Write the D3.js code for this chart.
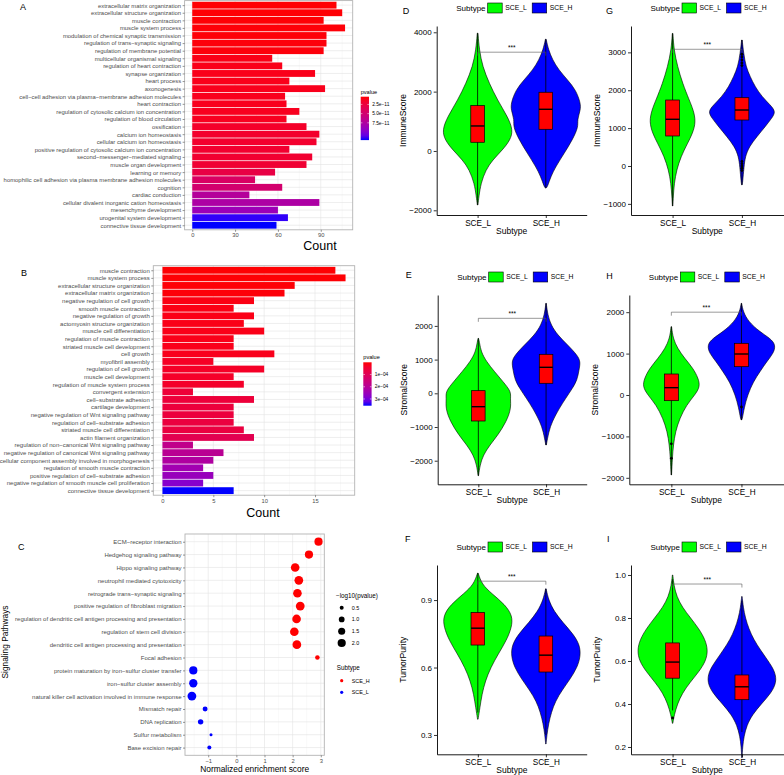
<!DOCTYPE html>
<html>
<head>
<meta charset="utf-8">
<script src="https://d3js.org/d3.v7.min.js"></script>
<style>
  body { margin: 0; background: #fff; }
  svg { font-family: "Liberation Sans", Arial, Helvetica, sans-serif; }
</style>
</head>
<body>
<div id="chart"></div>
<script>
// ---------- data: panel A (GO terms) ----------
var termsA = ["extracellular matrix organization", "extracellular structure organization", "muscle contraction",
  "muscle system process", "modulation of chemical synaptic transmission", "regulation of trans\u2212synaptic signaling",
  "regulation of membrane potential", "multicellular organismal signaling", "regulation of heart contraction",
  "synapse organization", "heart process", "axonogenesis",
  "cell\u2212cell adhesion via plasma\u2212membrane adhesion molecules", "heart contraction",
  "regulation of cytosolic calcium ion concentration", "regulation of blood circulation", "ossification",
  "calcium ion homeostasis", "cellular calcium ion homeostasis",
  "positive regulation of cytosolic calcium ion concentration", "second\u2212messenger\u2212mediated signaling",
  "muscle organ development", "learning or memory",
  "homophilic cell adhesion via plasma membrane adhesion molecules", "cognition", "cardiac conduction",
  "cellular divalent inorganic cation homeostasis", "mesenchyme development", "urogenital system development",
  "connective tissue development"];
var countA = [101, 105, 92, 107, 94, 94, 92, 56, 63, 86, 68, 93, 65, 66, 75, 66, 80, 89, 87, 68, 84, 80, 58, 44, 63, 40, 89, 60, 67, 59];
var pA = [0.45, 0.5, 0.5, 0.55, 0.55, 0.6, 0.6, 0.9, 0.95, 1.0, 1.0, 1.05, 1.1, 1.1, 1.15, 1.2, 1.6, 1.7, 1.75, 1.8,
  1.9, 2.0, 2.8, 4.3, 4.9, 7.2, 7.7, 8.7, 11.9, 12.2]; // x 1e-11
var pTicksA = [2.5, 5.0, 7.5];

// ---------- data: panel B ----------
var termsB = ["muscle contraction", "muscle system process", "extracellular structure organization",
  "extracellular matrix organization", "negative regulation of cell growth", "smooth muscle contraction",
  "negative regulation of growth", "actomyosin structure organization", "muscle cell differentiation",
  "regulation of muscle contraction", "striated muscle cell development", "cell growth", "myofibril assembly",
  "regulation of cell growth", "muscle cell development", "regulation of muscle system process",
  "convergent extension", "cell\u2212substrate adhesion", "cartilage development",
  "negative regulation of Wnt signaling pathway", "regulation of cell\u2212substrate adhesion",
  "striated muscle cell differentiation", "actin filament organization",
  "regulation of non\u2212canonical Wnt signaling pathway", "negative regulation of canonical Wnt signaling pathway",
  "cellular component assembly involved in morphogenesis", "regulation of smooth muscle contraction",
  "positive regulation of cell\u2212substrate adhesion", "negative regulation of smooth muscle cell proliferation",
  "connective tissue development"];
var countB = [17, 18, 13, 12, 9, 7, 9, 8, 10, 7, 7, 11, 5, 10, 7, 8, 3, 9, 7, 7, 7, 8, 9, 3, 6, 5, 4, 5, 4, 7];
var pB = [0.02, 0.03, 0.04, 0.05, 0.12, 0.13, 0.14, 0.15, 0.16, 0.17, 0.18, 0.2, 0.3, 0.32, 0.34, 0.36, 0.55, 0.57,
  0.6, 0.62, 0.64, 0.66, 0.9, 1.8, 1.95, 2.15, 2.4, 2.55, 2.8, 3.55]; // x 1e-4
var pTicksB = [1, 2, 3];

// ---------- data: panel C (GSEA) ----------
var termsC = ["ECM\u2212receptor interaction", "Hedgehog signaling pathway", "Hippo signaling pathway",
  "neutrophil mediated cytotoxicity", "retrograde trans\u2212synaptic signaling",
  "positive regulation of fibroblast migration",
  "regulation of dendritic cell antigen processing and presentation", "regulation of stem cell division",
  "dendritic cell antigen processing and presentation", "Focal adhesion",
  "protein maturation by iron\u2212sulfur cluster transfer", "iron\u2212sulfur cluster assembly",
  "natural killer cell activation involved in immune response", "Mismatch repair", "DNA replication",
  "Sulfur metabolism", "Base excision repair"];
var nesC = [2.92, 2.58, 2.09, 2.22, 2.17, 2.27, 2.14, 2.06, 2.15, 2.88, -1.53, -1.53, -1.58, -1.11, -1.27, -0.90, -0.96];
var logpC = [2.0, 2.0, 2.2, 2.25, 2.2, 2.3, 2.2, 2.2, 2.25, 0.65, 2.0, 2.05, 2.3, 0.75, 0.9, 0.3, 0.5];
var subC = ["SCE_H", "SCE_H", "SCE_H", "SCE_H", "SCE_H", "SCE_H", "SCE_H", "SCE_H", "SCE_H", "SCE_H",
  "SCE_L", "SCE_L", "SCE_L", "SCE_L", "SCE_L", "SCE_L", "SCE_L"];
var sizeLegend = [0.5, 1.0, 1.5, 2.0];

// ---------- data: violins  [value, half width in category units] ----------
var subtypes = ["SCE_L", "SCE_H"];

var vioD_L = [[3970,0.005],[3407,0.025],[2844,0.073],[2283,0.17],[1720,0.29],[1157,0.44],[708,0.52],[371,0.48],[34,0.365],[-303,0.22],[-640,0.12],[-1090,0.048],[-1540,0.019],[-1820,0.004]];
var vioD_H = [[3767,0.005],[3407,0.04],[3070,0.1],[2732,0.19],[2395,0.32],[2058,0.44],[1619,0.51],[1383,0.51],[1046,0.46],[820,0.48],[371,0.39],[-78,0.27],[-528,0.146],[-866,0.073],[-1203,0.025],[-1250,0.004]];
var boxD_L = [-1820, 293, 843, 1529, 3970];
var boxD_H = [-1250, 731, 1405, 1979, 3767];

var vioG_L = [[3500,0.004],[3062,0.02],[2621,0.072],[2183,0.144],[1742,0.24],[1478,0.3],[1170,0.336],[863,0.29],[599,0.216],[246,0.12],[-106,0.058],[-457,0.024],[-810,0.01],[-1056,0.003]];
var vioG_H = [[3326,0.004],[2980,0.025],[2621,0.058],[2357,0.12],[2093,0.19],[1830,0.29],[1610,0.41],[1434,0.49],[1259,0.43],[1038,0.336],[774,0.216],[510,0.105],[246,0.048],[-18,0.03],[-457,0.01],[-500,0.003]];
var boxG_L = [-1056, 792, 1233, 1742, 3500];
var boxG_H = [-500, 1214, 1478, 1803, 3326];
var outG_H = [2650, 2720, 2800, 2880, 2950, 120, 60, 0, -60, -120];

var vioE_L = [[1630,0.003],[1483,0.02],[1234,0.04],[938,0.12],[641,0.24],[344,0.365],[47,0.486],[-148,0.47],[-445,0.486],[-843,0.413],[-1237,0.29],[-1534,0.17],[-1831,0.073],[-2127,0.025],[-2445,0.003]];
var vioE_H = [[2670,0.003],[2323,0.025],[2026,0.073],[1730,0.17],[1433,0.32],[1136,0.46],[938,0.51],[691,0.486],[395,0.46],[148,0.39],[-148,0.29],[-445,0.195],[-843,0.088],[-1140,0.04],[-1534,0.004]];
var boxE_L = [-2445, -822, -397, 78, 1632];
var boxE_H = [-1534, 297, 771, 1157, 2670];

var vioH_L = [[1650,0.003],[1369,0.024],[1128,0.087],[886,0.19],[645,0.31],[403,0.385],[201,0.41],[0,0.336],[-241,0.216],[-564,0.12],[-886,0.058],[-1208,0.029],[-1530,0.014],[-1932,0.003]];
var vioH_H = [[2214,0.003],[2013,0.024],[1771,0.1],[1529,0.26],[1369,0.41],[1208,0.49],[1007,0.457],[805,0.36],[563,0.264],[322,0.17],[0,0.087],[-322,0.038],[-564,0.014],[-604,0.003]];
var boxH_L = [-1932, -137, 177, 507, 1650];
var boxH_H = [-604, 684, 990, 1248, 2214];
var outH_L = [-1180, -1530];
var outH_H = [-290];

var vioF_L = [[1.02,0.004],[0.97,0.06],[0.93,0.2],[0.88,0.4],[0.83,0.51],[0.78,0.5],[0.72,0.42],[0.66,0.3],[0.6,0.19],[0.54,0.11],[0.48,0.06],[0.42,0.03],[0.37,0.004]];
var vioF_H = [[0.95,0.004],[0.9,0.04],[0.85,0.12],[0.8,0.25],[0.75,0.4],[0.7,0.5],[0.65,0.51],[0.6,0.46],[0.55,0.36],[0.5,0.24],[0.45,0.14],[0.4,0.08],[0.35,0.04],[0.3,0.015],[0.26,0.003]];
var boxF_L = [0.40, 0.70, 0.775, 0.845, 1.02];
var boxF_H = [0.30, 0.58, 0.655, 0.74, 0.95];

var vioI_L = [[1.0,0.003],[0.95,0.02],[0.9,0.06],[0.85,0.14],[0.8,0.26],[0.75,0.38],[0.7,0.47],[0.65,0.51],[0.6,0.48],[0.55,0.38],[0.5,0.25],[0.45,0.14],[0.4,0.07],[0.35,0.025],[0.31,0.003]];
var vioI_H = [[0.9,0.003],[0.85,0.02],[0.8,0.05],[0.75,0.1],[0.7,0.17],[0.65,0.27],[0.6,0.38],[0.55,0.48],[0.5,0.5],[0.45,0.42],[0.4,0.28],[0.35,0.15],[0.3,0.07],[0.25,0.03],[0.2,0.01],[0.15,0.003]];
var boxI_L = [0.37, 0.52, 0.595, 0.684, 0.98];
var boxI_H = [0.27, 0.42, 0.48, 0.535, 0.88];
var outI_L = [0.335];

var svg = d3.select("#chart").append("svg")
  .attr("width", 784).attr("height", 775);

function styleAxis(ax, color, fs) {
  ax.attr("font-family", null).attr("font-size", null);
  ax.selectAll(".tick line").attr("stroke", color).attr("stroke-width", 0.6);
  ax.selectAll(".tick text").attr("fill", color).style("font-size", fs + "px");
}

function letter(t, x, y) {
  svg.append("text").attr("x", x).attr("y", y).text(t)
    .style("font-size", "9px").attr("fill", "#000");
}

// ---------- bar panels (A, B) ----------
function barPanel(c) {
  var g = svg.append("g");
  var x = d3.scaleLinear().domain(c.xDomain).range([c.left, c.right]);
  var y = d3.scalePoint().domain(c.terms).range([c.top, c.bottom]).padding(0.6);
  var step = y.step();
  var color = d3.scaleLinear().domain(c.pDomain).range(["red", "blue"])
    .interpolate(d3.interpolateLab).clamp(true);

  g.append("rect").attr("x", c.left).attr("y", c.top)
    .attr("width", c.right - c.left).attr("height", c.bottom - c.top).attr("fill", "#fff");

  g.selectAll(".minor").data(c.minor).join("line")
    .attr("x1", function(d) { return x(d); }).attr("x2", function(d) { return x(d); })
    .attr("y1", c.top).attr("y2", c.bottom)
    .attr("stroke", "#f0f0f0").attr("stroke-width", 0.4);
  g.selectAll(".major").data(c.ticks).join("line")
    .attr("x1", function(d) { return x(d); }).attr("x2", function(d) { return x(d); })
    .attr("y1", c.top).attr("y2", c.bottom)
    .attr("stroke", "#e3e3e3").attr("stroke-width", 0.6);
  g.selectAll(".hgrid").data(c.terms).join("line")
    .attr("x1", c.left).attr("x2", c.right)
    .attr("y1", function(d) { return y(d); }).attr("y2", function(d) { return y(d); })
    .attr("stroke", "#e3e3e3").attr("stroke-width", 0.6);

  g.selectAll(".bar").data(c.terms).join("rect")
    .attr("x", x(0))
    .attr("y", function(d) { return y(d) - step * 0.45; })
    .attr("width", function(d, i) { return x(c.counts[i]) - x(0); })
    .attr("height", step * 0.9)
    .attr("fill", function(d, i) { return color(c.p[i]); });

  g.append("rect").attr("x", c.left).attr("y", c.top)
    .attr("width", c.right - c.left).attr("height", c.bottom - c.top)
    .attr("fill", "none").attr("stroke", "#b3b3b3").attr("stroke-width", 0.9);

  var ay = g.append("g").attr("transform", "translate(" + c.left + ",0)")
    .call(d3.axisLeft(y).tickSize(2).tickPadding(1.5));
  ay.select(".domain").remove();
  styleAxis(ay, "#4d4d4d", c.labelSize);

  var ax = g.append("g").attr("transform", "translate(0," + c.bottom + ")")
    .call(d3.axisBottom(x).tickValues(c.ticks).tickSize(2).tickPadding(1.5).tickFormat(d3.format("d")));
  ax.select(".domain").remove();
  styleAxis(ax, "#4d4d4d", 5.8);

  g.append("text").attr("x", c.countX).attr("y", c.countY).attr("text-anchor", "middle")
    .style("font-size", "12.5px").text("Count");

  // colour bar legend
  var lg = g.append("g");
  lg.append("text").attr("x", c.lgX).attr("y", c.lgTop - 3).style("font-size", "5.6px").text("pvalue");
  var gid = "grad" + c.id;
  var grad = svg.append("defs").append("linearGradient").attr("id", gid)
    .attr("x1", 0).attr("x2", 0).attr("y1", 0).attr("y2", 1);
  d3.range(0, 1.001, 0.1).forEach(function(t) {
    grad.append("stop").attr("offset", t)
      .attr("stop-color", color(c.pDomain[0] + t * (c.pDomain[1] - c.pDomain[0])));
  });
  lg.append("rect").attr("x", c.lgX).attr("y", c.lgTop).attr("width", 8.3).attr("height", 43.4)
    .attr("fill", "url(#" + gid + ")");
  var cs = d3.scaleLinear().domain(c.pDomain).range([c.lgTop, c.lgTop + 43.4]);
  lg.selectAll(".ct").data(c.pTicks).join("line")
    .attr("x1", c.lgX).attr("x2", c.lgX + 1.7)
    .attr("y1", function(d) { return cs(d); }).attr("y2", function(d) { return cs(d); })
    .attr("stroke", "#fff").attr("stroke-width", 0.5);
  lg.selectAll(".ct2").data(c.pTicks).join("line")
    .attr("x1", c.lgX + 6.6).attr("x2", c.lgX + 8.3)
    .attr("y1", function(d) { return cs(d); }).attr("y2", function(d) { return cs(d); })
    .attr("stroke", "#fff").attr("stroke-width", 0.5);
  lg.selectAll(".cl").data(c.pTicks).join("text")
    .attr("x", c.lgX + 11.5).attr("y", function(d) { return cs(d) + 1.7; })
    .style("font-size", "4.8px").attr("fill", "#000")
    .text(function(d) { return c.pFormat(d); });
}

barPanel({
  id: "A", terms: termsA, counts: countA, p: pA, pDomain: [0.4, 12.2], pTicks: pTicksA,
  pFormat: function(d) { return d3.format(".1f")(d) + "e\u221211"; },
  xDomain: [-5.35, 112.35], left: 184.6, right: 352.7, top: 0.6, bottom: 229.8,
  ticks: [0, 30, 60, 90], minor: [15, 45, 75, 105], labelSize: 5.9,
  countX: 320, countY: 249.5, lgX: 360.7, lgTop: 96.7
});

barPanel({
  id: "B", terms: termsB, counts: countB, p: pB, pDomain: [0.0, 3.55], pTicks: pTicksB,
  pFormat: function(d) { return d + "e\u221204"; },
  xDomain: [-0.9, 18.9], left: 153.3, right: 354.7, top: 265.7, bottom: 495.2,
  ticks: [0, 5, 10, 15], minor: [2.5, 7.5, 12.5, 17.5], labelSize: 6.0,
  countX: 263, countY: 516.5, lgX: 363.3, lgTop: 362.3
});

letter("A", 20, 9.5);
letter("B", 21, 276);
letter("C", 18, 550);

// ---------- dot panel (C) ----------
(function() {
  var left = 185, right = 324.3, top = 534, bottom = 755.3;
  var g = svg.append("g");
  var x = d3.scaleLinear().domain([-1.825, 3.125]).range([left, right]);
  var y = d3.scalePoint().domain(termsC).range([top, bottom]).padding(0.6);
  var r = d3.scaleRadial().domain([0.3, 2.3]).range([1.5, 4.4]).clamp(true);
  var col = d3.scaleOrdinal().domain(["SCE_H", "SCE_L"]).range(["#ff0000", "#0000ff"]);

  g.selectAll(".minor").data([-1.5, -0.5, 0.5, 1.5, 2.5]).join("line")
    .attr("x1", function(d) { return x(d); }).attr("x2", function(d) { return x(d); })
    .attr("y1", top).attr("y2", bottom).attr("stroke", "#f0f0f0").attr("stroke-width", 0.4);
  g.selectAll(".major").data([-1, 0, 1, 2, 3]).join("line")
    .attr("x1", function(d) { return x(d); }).attr("x2", function(d) { return x(d); })
    .attr("y1", top).attr("y2", bottom).attr("stroke", "#e3e3e3").attr("stroke-width", 0.6);
  g.selectAll(".hgrid").data(termsC).join("line")
    .attr("x1", left).attr("x2", right)
    .attr("y1", function(d) { return y(d); }).attr("y2", function(d) { return y(d); })
    .attr("stroke", "#e3e3e3").attr("stroke-width", 0.6);

  g.selectAll(".dot").data(termsC).join("circle")
    .attr("cx", function(d, i) { return x(nesC[i]); })
    .attr("cy", function(d) { return y(d); })
    .attr("r", function(d, i) { return r(logpC[i]); })
    .attr("fill", function(d, i) { return col(subC[i]); });

  g.append("rect").attr("x", left).attr("y", top).attr("width", right - left).attr("height", bottom - top)
    .attr("fill", "none").attr("stroke", "#b3b3b3").attr("stroke-width", 0.9);

  var ay = g.append("g").attr("transform", "translate(" + left + ",0)")
    .call(d3.axisLeft(y).tickSize(2).tickPadding(1.5));
  ay.select(".domain").remove();
  styleAxis(ay, "#4d4d4d", 6.0);
  var ax = g.append("g").attr("transform", "translate(0," + bottom + ")")
    .call(d3.axisBottom(x).tickValues([-1, 0, 1, 2, 3]).tickSize(2).tickPadding(1.5).tickFormat(d3.format("d")));
  ax.select(".domain").remove();
  styleAxis(ax, "#4d4d4d", 5.8);

  g.append("text").attr("x", 254.7).attr("y", 772).attr("text-anchor", "middle")
    .style("font-size", "8.4px").text("Normalized enrichment score");
  g.append("text").attr("transform", "translate(8,642) rotate(-90)").attr("text-anchor", "middle")
    .style("font-size", "8.4px").text("Signaling Pathways");

  // legends
  g.append("text").attr("x", 336).attr("y", 598).style("font-size", "6.3px").text("\u2212log10(pvalue)");
  var sy = d3.scalePoint().domain(sizeLegend).range([607.7, 643]);
  g.selectAll(".sl").data(sizeLegend).join("circle")
    .attr("cx", 341.7).attr("cy", function(d) { return sy(d); })
    .attr("r", function(d) { return r(d); }).attr("fill", "#000");
  g.selectAll(".slt").data(sizeLegend).join("text")
    .attr("x", 351.7).attr("y", function(d) { return sy(d) + 2; })
    .style("font-size", "5.4px").text(function(d) { return d3.format(".1f")(d); });
  g.append("text").attr("x", 336.7).attr("y", 670).style("font-size", "6.3px").text("Subtype");
  var cy = d3.scalePoint().domain(["SCE_H", "SCE_L"]).range([680.7, 692.3]);
  g.selectAll(".cl").data(["SCE_H", "SCE_L"]).join("circle")
    .attr("cx", 341.7).attr("cy", function(d) { return cy(d); }).attr("r", 1.6)
    .attr("fill", function(d) { return col(d); });
  g.selectAll(".clt").data(["SCE_H", "SCE_L"]).join("text")
    .attr("x", 351.7).attr("y", function(d) { return cy(d) + 2; })
    .style("font-size", "5.4px").text(function(d) { return d; });
})();

// ---------- violin panels ----------
function violinPanel(c) {
  var g = svg.append("g");
  var x = d3.scalePoint().domain(subtypes).range([c.left, c.right]).padding(0.6);
  var y = d3.scaleLinear().domain(c.yDomain).range([c.bottom, c.top]);
  var step = x.step();
  var fills = { SCE_L: "#00ff00", SCE_H: "#0000ff" };
  var groups = [
    { k: "SCE_L", v: c.vL, b: c.bL, o: c.oL || [] },
    { k: "SCE_H", v: c.vH, b: c.bH, o: c.oH || [] }
  ];
  groups.forEach(function(gr) {
    var cx = x(gr.k);
    var area = d3.area().curve(d3.curveBasis)
      .y(function(d) { return y(d[0]); })
      .x0(function(d) { return cx - d[1] * step; })
      .x1(function(d) { return cx + d[1] * step; });
    g.append("path").datum(gr.v).attr("d", area)
      .attr("fill", fills[gr.k]).attr("stroke", "#000").attr("stroke-width", 0.6);
    g.append("line").attr("x1", cx).attr("x2", cx)
      .attr("y1", y(gr.b[0])).attr("y2", y(gr.b[4]))
      .attr("stroke", "#000").attr("stroke-width", 0.8);
    g.append("rect").attr("x", cx - 0.1 * step).attr("width", 0.2 * step)
      .attr("y", y(gr.b[3])).attr("height", y(gr.b[1]) - y(gr.b[3]))
      .attr("fill", "#ff0000").attr("stroke", "#000").attr("stroke-width", 0.7);
    g.append("line").attr("x1", cx - 0.1 * step).attr("x2", cx + 0.1 * step)
      .attr("y1", y(gr.b[2])).attr("y2", y(gr.b[2]))
      .attr("stroke", "#000").attr("stroke-width", 1.4);
    g.selectAll(null).data(gr.o).join("circle")
      .attr("cx", cx).attr("cy", function(d) { return y(d); }).attr("r", 1.4).attr("fill", "#000");
  });

  // significance bracket
  var yb = y(c.sig);
  g.append("path")
    .attr("d", "M" + x("SCE_L") + "," + (yb + 3.5) + "V" + yb + "H" + x("SCE_H") + "V" + (yb + 3.5))
    .attr("fill", "none").attr("stroke", "#555").attr("stroke-width", 0.6);
  g.append("text").attr("x", (x("SCE_L") + x("SCE_H")) / 2).attr("y", yb - 2.2)
    .attr("text-anchor", "middle").style("font-size", "6.5px").text("***");

  var ay = g.append("g").attr("transform", "translate(" + c.left + ",0)")
    .call(d3.axisLeft(y).tickValues(c.ticks).tickSize(3).tickPadding(2).tickSizeOuter(0)
      .tickFormat(c.fmt));
  ay.attr("font-family", null).attr("font-size", null);
  ay.select(".domain").attr("stroke", "#000").attr("stroke-width", 0.9);
  ay.selectAll(".tick line").attr("stroke", "#000").attr("stroke-width", 0.8);
  ay.selectAll(".tick text").attr("fill", "#000").style("font-size", "8px");

  var ax = g.append("g").attr("transform", "translate(0," + c.bottom + ")")
    .call(d3.axisBottom(x).tickSize(3).tickPadding(2).tickSizeOuter(0));
  ax.attr("font-family", null).attr("font-size", null);
  ax.select(".domain").attr("stroke", "#000").attr("stroke-width", 0.9);
  ax.selectAll(".tick line").attr("stroke", "#000").attr("stroke-width", 0.8);
  ax.selectAll(".tick text").attr("fill", "#000").style("font-size", "8.2px");

  g.append("text").attr("x", (x("SCE_L") + x("SCE_H")) / 2).attr("y", c.bottom + 19)
    .attr("text-anchor", "middle").style("font-size", "8.5px").text("Subtype");
  g.append("text")
    .attr("transform", "translate(" + (c.left - 31) + "," + ((c.top + c.bottom) / 2) + ") rotate(-90)")
    .attr("text-anchor", "middle").style("font-size", "8.5px").text(c.ylab);

  // legend on top
  var ly = c.top - 18;
  g.append("text").attr("x", c.left + 19.5).attr("y", ly + 2.8).style("font-size", "8px").text("Subtype");
  var keyX = { SCE_L: 51, SCE_H: 95.5 };
  subtypes.forEach(function(k) {
    g.append("rect").attr("x", c.left + keyX[k]).attr("y", ly - 5).attr("width", 14.5).attr("height", 10)
      .attr("fill", fills[k]).attr("stroke", "#000").attr("stroke-width", 0.6);
    g.append("text").attr("x", c.left + keyX[k] + 17.5).attr("y", ly + 2.4)
      .style("font-size", "6.8px").text(k);
  });

  letter(c.letter, c.left + c.letterDx, c.top + c.letterDy);
}

var fmtInt = d3.format("d");
var fmt1 = d3.format(".1f");

violinPanel({ letter: "D", letterDx: -34, letterDy: -12, ylab: "ImmuneScore",
  left: 436.7, right: 586.7, top: 26, bottom: 215, yDomain: [-2158, 4212],
  ticks: [-2000, 0, 2000, 4000], fmt: fmtInt, vL: vioD_L, vH: vioD_H, bL: boxD_L, bH: boxD_H, sig: 3329 });
violinPanel({ letter: "G", letterDx: -25, letterDy: -12, ylab: "ImmuneScore",
  left: 631, right: 783.5, top: 26, bottom: 215, yDomain: [-1294, 3696],
  ticks: [-1000, 0, 1000, 2000, 3000], fmt: fmtInt, vL: vioG_L, vH: vioG_H, bL: boxG_L, bH: boxG_H,
  oH: outG_H, sig: 3081 });
violinPanel({ letter: "E", letterDx: -32, letterDy: -17, ylab: "StromalScore",
  left: 437.7, right: 586.7, top: 295, bottom: 484.3, yDomain: [-2700, 2917],
  ticks: [-2000, -1000, 0, 1000, 2000], fmt: fmtInt, vL: vioE_L, vH: vioE_H, bL: boxE_L, bH: boxE_H, sig: 2225 });
violinPanel({ letter: "H", letterDx: -23, letterDy: -16, ylab: "StromalScore",
  left: 629.3, right: 783.5, top: 295, bottom: 484.3, yDomain: [-2157, 2415],
  ticks: [-2000, -1000, 0, 1000, 2000], fmt: fmtInt, vL: vioH_L, vH: vioH_H, bL: boxH_L, bH: boxH_H,
  oL: outH_L, oH: outH_H, sig: 2000 });
violinPanel({ letter: "F", letterDx: -32, letterDy: -23, ylab: "TumorPurity",
  left: 437, right: 586.7, top: 565, bottom: 754.3, yDomain: [0.214, 1.056],
  ticks: [0.3, 0.6, 0.9], fmt: fmt1, vL: vioF_L, vH: vioF_H, bL: boxF_L, bH: boxF_H, sig: 0.984 });
violinPanel({ letter: "I", letterDx: -24, letterDy: -23, ylab: "TumorPurity",
  left: 631, right: 783.5, top: 565, bottom: 754.3, yDomain: [0.166, 1.0465],
  ticks: [0.2, 0.4, 0.6, 0.8, 1.0], fmt: fmt1, vL: vioI_L, vH: vioI_H, bL: boxI_L, bH: boxI_H,
  oL: outI_L, sig: 0.958 });
</script>
</body>
</html>
